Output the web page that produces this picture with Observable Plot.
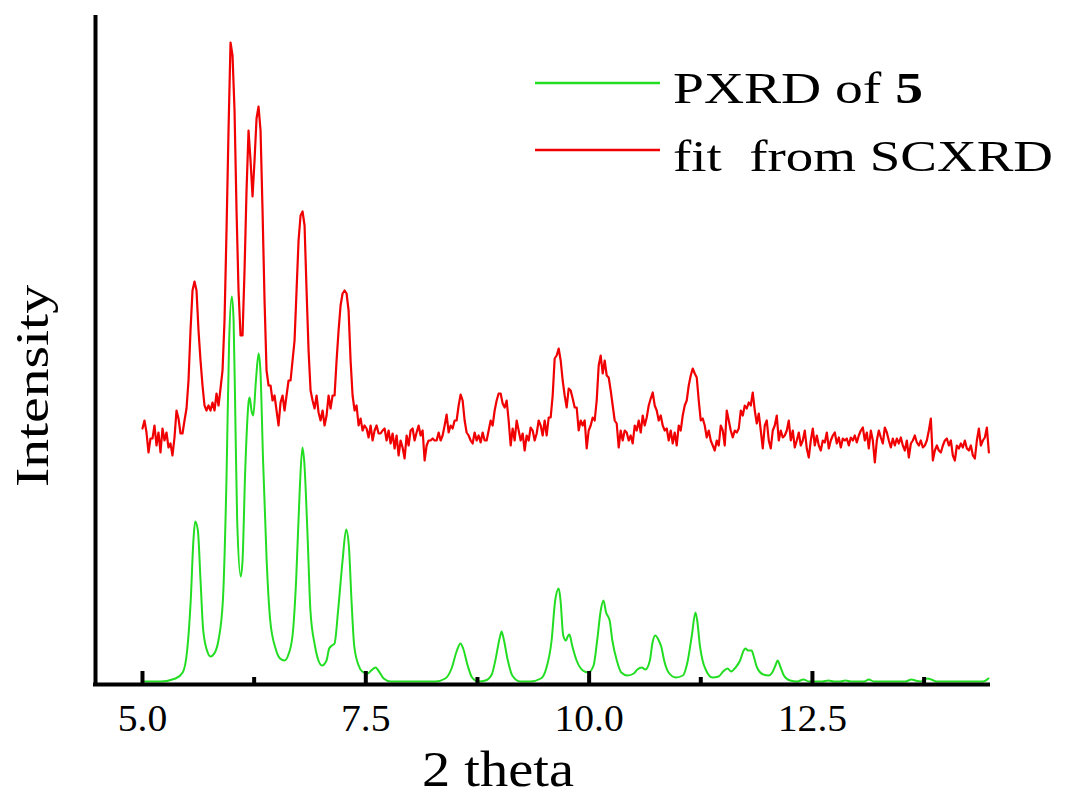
<!DOCTYPE html>
<html>
<head>
<meta charset="utf-8">
<script src="https://cdn.jsdelivr.net/npm/d3@7"></script>
<script src="https://cdn.jsdelivr.net/npm/@observablehq/plot@0.6"></script>
<style>
  body { margin: 0; background: #ffffff; }
  #chart svg { display: block; }
</style>
</head>
<body>
<div id="chart"></div>
<script>
// ---------- data ----------
// PXRD of 5 (green): 2-theta positions and intensities (arbitrary units)
const greenTheta = [5.00,5.20,5.37,5.45,5.50,5.54,5.57,5.59,5.62,5.65,
  5.68,5.73,5.76,5.81,5.85,5.90,5.94,5.97,6.00,6.02,
  6.04,6.06,6.10,6.12,6.15,6.19,6.20,6.22,6.24,6.27,
  6.30,6.32,6.35,6.39,6.43,6.49,6.54,6.59,6.63,6.68,
  6.72,6.76,6.79,6.81,6.85,6.88,6.93,6.97,7.01,7.06,
  7.09,7.12,7.15,7.19,7.24,7.28,7.31,7.34,7.37,7.42,
  7.46,7.52,7.56,7.61,7.64,7.70,7.78,7.89,8.11,8.28,
  8.39,8.46,8.52,8.56,8.59,8.64,8.69,8.76,8.84,8.91,
  8.95,9.00,9.02,9.04,9.09,9.14,9.23,9.34,9.46,9.52,
  9.58,9.62,9.66,9.68,9.71,9.74,9.76,9.78,9.81,9.86,
  9.93,9.99,10.05,10.09,10.13,10.16,10.19,10.23,10.26,10.31,
  10.36,10.43,10.50,10.54,10.59,10.63,10.68,10.71,10.74,10.78,
  10.81,10.84,10.89,10.97,11.05,11.10,11.15,11.19,11.21,11.24,
  11.27,11.31,11.38,11.45,11.50,11.55,11.59,11.64,11.69,11.73,
  11.75,11.78,11.82,11.84,11.88,11.95,12.01,12.05,12.09,12.11,
  12.14,12.18,12.25,12.33,12.40,12.46,12.53,12.61,12.68,12.74,
  12.81,12.87,12.93,13.02,13.08,13.13,13.19,13.28,13.43,13.54,
  13.61,13.65,13.71,13.79,13.83,13.89,14.05,14.18,14.25,14.29,
  14.36,14.41,14.47];
const greenIntensity = [3,3,6,12,34,84,144,163,154,104,
  54,32,28,32,44,84,204,344,388,364,
  264,164,108,124,214,284,287,274,269,304,
  331,314,224,124,64,36,26,24,29,49,
  104,194,237,224,144,74,39,24,19,24,
  36,39,41,74,124,155,139,84,39,19,
  13,11,14,17,14,6,3,3,3,3,
  6,16,34,41,36,19,7,3,4,10,
  24,47,53,47,24,9,3,3,6,16,
  44,84,96,84,49,44,48,50,39,24,
  14,12,19,44,74,84,72,64,44,24,
  12,9,11,15,17,15,24,42,49,44,
  37,24,12,7,9,22,49,72,64,39,
  24,14,7,8,13,16,13,17,24,34,
  36,34,34,29,17,10,9,12,20,24,
  18,9,4,3,5,3,3,3,4,3,
  3,4,3,3,3,5,3,3,3,3,
  5,4,3,6,5,3,3,3,3,3,
  3,3,6];

// fit from SCXRD (red): sampled on a regular 2-theta grid
const redStart = 5.0;
const redStep = 0.0224;
const redIntensity = [
  256,264,252,232,246,246,259,239,252,232,
  256,244,252,237,241,229,247,274,266,251,
  251,264,276,304,354,394,403,394,354,324,
  299,279,274,279,274,282,274,291,279,296,
  314,364,454,554,642,629,574,474,394,349,
  349,414,494,554,524,488,524,566,578,554,
  474,384,314,299,299,284,289,274,259,282,
  289,274,289,304,304,324,344,394,444,469,
  473,459,394,334,294,284,276,289,272,264,
  274,259,269,289,276,289,289,324,354,379,
  391,394,391,374,324,289,274,279,259,266,
  254,259,256,247,259,244,254,259,251,251,
  254,256,244,254,241,251,236,249,229,244,
  237,226,249,239,254,256,244,252,259,249,
  254,224,239,244,244,246,244,244,252,244,
  249,259,270,252,259,256,264,264,279,290,
  284,264,252,249,244,241,252,244,249,242,
  252,244,244,254,264,259,274,284,291,291,
  281,277,284,264,239,256,244,264,254,244,
  251,234,249,244,257,254,244,251,264,259,
  249,264,249,267,267,289,326,329,336,324,
  304,289,277,296,294,286,277,277,254,264,
  259,264,236,254,259,267,264,284,319,329,
  311,324,309,307,294,279,264,261,237,254,
  244,254,252,244,249,241,259,254,264,252,
  269,259,267,279,286,292,279,274,264,269,
  259,254,256,244,254,241,252,239,259,254,
  269,279,284,299,309,316,311,307,284,264,
  266,259,247,254,244,239,234,244,239,259,
  254,239,274,264,254,247,254,252,256,274,
  269,279,276,282,279,292,274,261,271,254,
  236,259,264,244,236,254,259,269,244,254,
  247,249,254,264,244,254,237,244,252,239,
  244,254,236,227,244,256,239,249,239,234,
  244,242,252,236,244,249,252,241,247,237,
  246,244,246,239,247,244,249,242,249,254,
  257,244,252,236,254,244,222,244,254,247,
  241,257,252,244,237,246,239,246,241,247,
  239,234,244,227,241,244,249,242,239,244,
  237,239,244,254,266,224,234,239,234,232,
  239,244,246,239,244,229,224,239,236,241,
  237,244,236,234,239,229,226,244,256,239,
  244,247,257,232];

const majorTicks = [5.0, 7.5, 10.0, 12.5];
const minorTicks = [6.25, 8.75, 11.25, 13.75];
const xDomain = [4.474, 14.471];
const yDomain = [0, 667];
const xLabel = "2 theta";
const yLabel = "Intensity";
const legendLabels = ["PXRD of ", "fit  from SCXRD"];
const legendBold = ["5", ""];
const seriesColors = ["#22dd22", "#f00000"];

// ---------- build ----------
const FONT = "Liberation Serif, Times New Roman, Times, serif";
const green = greenTheta.map((t, i) => ({theta: t, intensity: greenIntensity[i]}));
const red = redIntensity.map((v, i) => ({theta: redStart + i * redStep, intensity: v}));

const svg = Plot.plot({
  width: 1065,
  height: 796,
  marginLeft: 95,
  marginRight: 77,
  marginTop: 17,
  marginBottom: 112,
  style: {fontFamily: FONT, background: "#ffffff", color: "#000"},
  x: {domain: xDomain, axis: null},
  y: {domain: yDomain, axis: null},
  marks: [
    Plot.line(red, {x: "theta", y: "intensity", stroke: seriesColors[1], strokeWidth: 2.2}),
    Plot.line(green, {x: "theta", y: "intensity", stroke: seriesColors[0], strokeWidth: 2, curve: "monotone-x"}),
    Plot.ruleY([yDomain[0]], {stroke: "#000", strokeWidth: 4, strokeLinecap: "square"}),
    Plot.ruleX([xDomain[0]], {stroke: "#000", strokeWidth: 4, strokeLinecap: "square"}),
    Plot.ruleX(majorTicks, {x: d => d, stroke: "#000", strokeWidth: 4, insetTop: 654}),
    Plot.ruleX(minorTicks, {x: d => d, stroke: "#000", strokeWidth: 4, insetTop: 660}),
    Plot.text(majorTicks, {x: d => d, text: d => d.toFixed(1), frameAnchor: "bottom", lineAnchor: "bottom",
      dy: 46, fontSize: 37, fontFamily: FONT, fill: "#000"}),
    Plot.text([xLabel], {text: d => d, frameAnchor: "bottom", lineAnchor: "bottom", textAnchor: "start",
      dx: -120, dy: 101, fontSize: 50, fontFamily: FONT, fill: "#000"}),
    Plot.text([yLabel], {text: d => d, frameAnchor: "left", lineAnchor: "bottom", textAnchor: "start", rotate: -90,
      dx: -48, dy: 136, fontSize: 47, fontFamily: FONT, fill: "#000"})
  ]
});

document.getElementById("chart").append(svg);

const s = d3.select(svg);
s.selectAll("text").each(function () {
  const t = this.textContent;
  const set = (len) => { this.setAttribute("textLength", len); this.setAttribute("lengthAdjust", "spacingAndGlyphs"); };
  if (t === xLabel) set(152);
  else if (t === yLabel) set(202);
  else if (majorTicks.map(d => d.toFixed(1)).includes(t)) set(this.getComputedTextLength() * 1.07);
});

// legend (top right, inside the plot)
const legendY = [83, 150];
const legendTextY = [103, 171];
const legendLen = [250, 380];
const lg = s.append("g").attr("font-family", FONT).attr("font-size", 44).attr("fill", "#000")
  .attr("text-anchor", "start");
legendLabels.forEach((lab, i) => {
  lg.append("line").attr("x1", 535).attr("x2", 660).attr("y1", legendY[i]).attr("y2", legendY[i])
    .attr("stroke", seriesColors[i]).attr("stroke-width", 2.5);
  const tx = lg.append("text").attr("x", 673).attr("y", legendTextY[i])
    .attr("text-anchor", "start").style("white-space", "pre");
  tx.append("tspan").text(lab);
  if (legendBold[i]) tx.append("tspan").attr("font-weight", "bold").text(legendBold[i]);
  tx.attr("textLength", legendLen[i]).attr("lengthAdjust", "spacingAndGlyphs");
});
</script>
</body>
</html>
